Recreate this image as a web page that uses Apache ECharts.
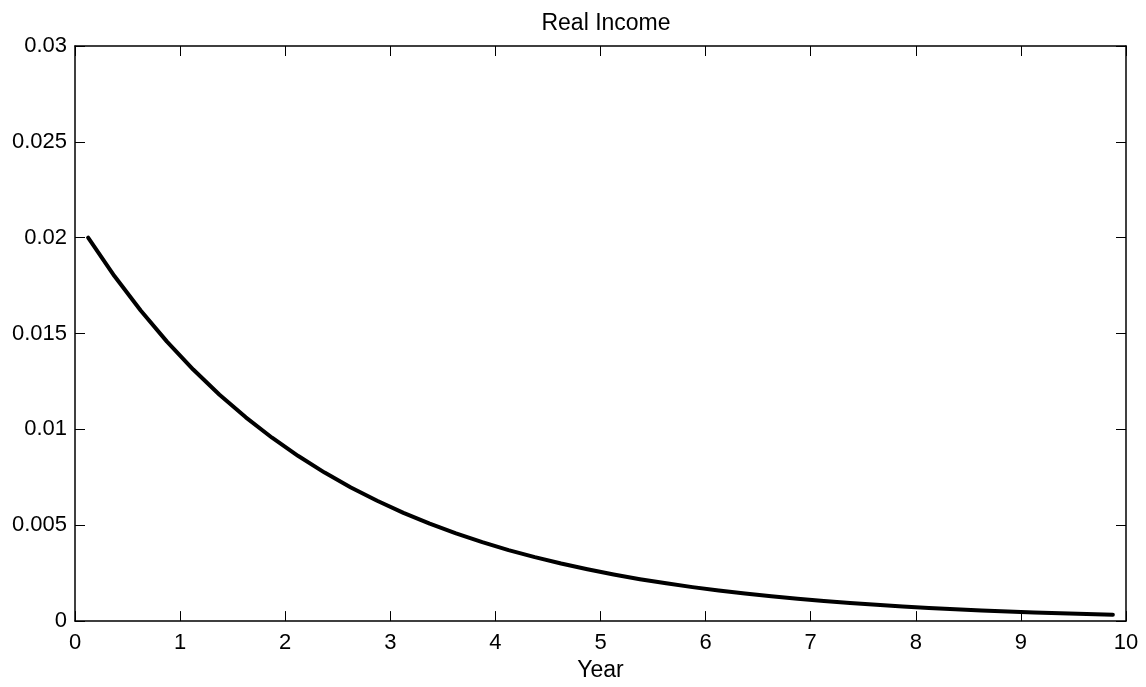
<!DOCTYPE html>
<html>
<head>
<meta charset="utf-8">
<script src="https://cdn.jsdelivr.net/npm/echarts@6/dist/echarts.min.js"></script>
<style>html,body{margin:0;padding:0;background:#fff;}#c{width:1146px;height:687px;}</style>
</head>
<body>
<div id="c"></div>
<script>
const titleText = "Real Income";
const xLabel = "Year";
const years = [0.125,0.375,0.625,0.875,1.125,1.375,1.625,1.875,2.125,2.375,2.625,2.875,3.125,3.375,3.625,3.875,4.125,4.375,4.625,4.875,5.125,5.375,5.625,5.875,6.125,6.375,6.625,6.875,7.125,7.375,7.625,7.875,8.125,8.375,8.625,8.875,9.125,9.375,9.625,9.875];
const realIncome = [0.02,0.018,0.0162,0.01458,0.013122,0.01181,0.010629,0.009566,0.008609,0.007748,0.006974,0.006276,0.005649,0.005084,0.004575,0.004118,0.003706,0.003335,0.003002,0.002702,0.002432,0.002188,0.00197,0.001773,0.001595,0.001436,0.001292,0.001163,0.001047,0.000942,0.000848,0.000763,0.000687,0.000618,0.000556,0.000501,0.000451,0.000406,0.000365,0.000328];

const font = "'Liberation Sans', Arial, Helvetica, sans-serif";
const chart = echarts.init(document.getElementById('c'));
const axisLine = {show: true, onZero: false, lineStyle: {color: '#000', width: 1.5}};
const tick = {show: true, inside: true, length: 10, lineStyle: {color: '#000', width: 1}};
chart.setOption({
  animation: false,
  backgroundColor: '#fff',
  title: {
    text: titleText, left: 601, top: 7, textAlign: 'center',
    textStyle: {fontFamily: font, fontSize: 23, fontWeight: 'normal', color: '#000'}
  },
  grid: {left: 75, right: 20, top: 46, bottom: 65, containLabel: false},
  xAxis: [
    {type: 'value', min: 0, max: 10, interval: 1, position: 'bottom',
     name: xLabel, nameLocation: 'middle', nameGap: 37,
     nameTextStyle: {fontFamily: font, fontSize: 23, color: '#000'},
     axisLine: axisLine, axisTick: tick, splitLine: {show: false},
     axisLabel: {fontFamily: font, fontSize: 22, color: '#000', margin: 11}},
    {type: 'value', min: 0, max: 10, interval: 1, position: 'top',
     axisLine: axisLine, axisTick: tick, splitLine: {show: false}, axisLabel: {show: false}}
  ],
  yAxis: [
    {type: 'value', min: 0, max: 0.03, interval: 0.005, position: 'left',
     axisLine: axisLine, axisTick: tick, splitLine: {show: false},
     axisLabel: {fontFamily: font, fontSize: 22, color: '#000', margin: 8}},
    {type: 'value', min: 0, max: 0.03, interval: 0.005, position: 'right',
     axisLine: axisLine, axisTick: tick, splitLine: {show: false}, axisLabel: {show: false}}
  ],
  series: [{
    type: 'line',
    data: years.map((x, i) => [x, realIncome[i]]),
    showSymbol: false,
    symbol: 'none',
    lineStyle: {color: '#000', width: 4, cap: 'round', join: 'round'}
  }]
});
</script>
</body>
</html>
